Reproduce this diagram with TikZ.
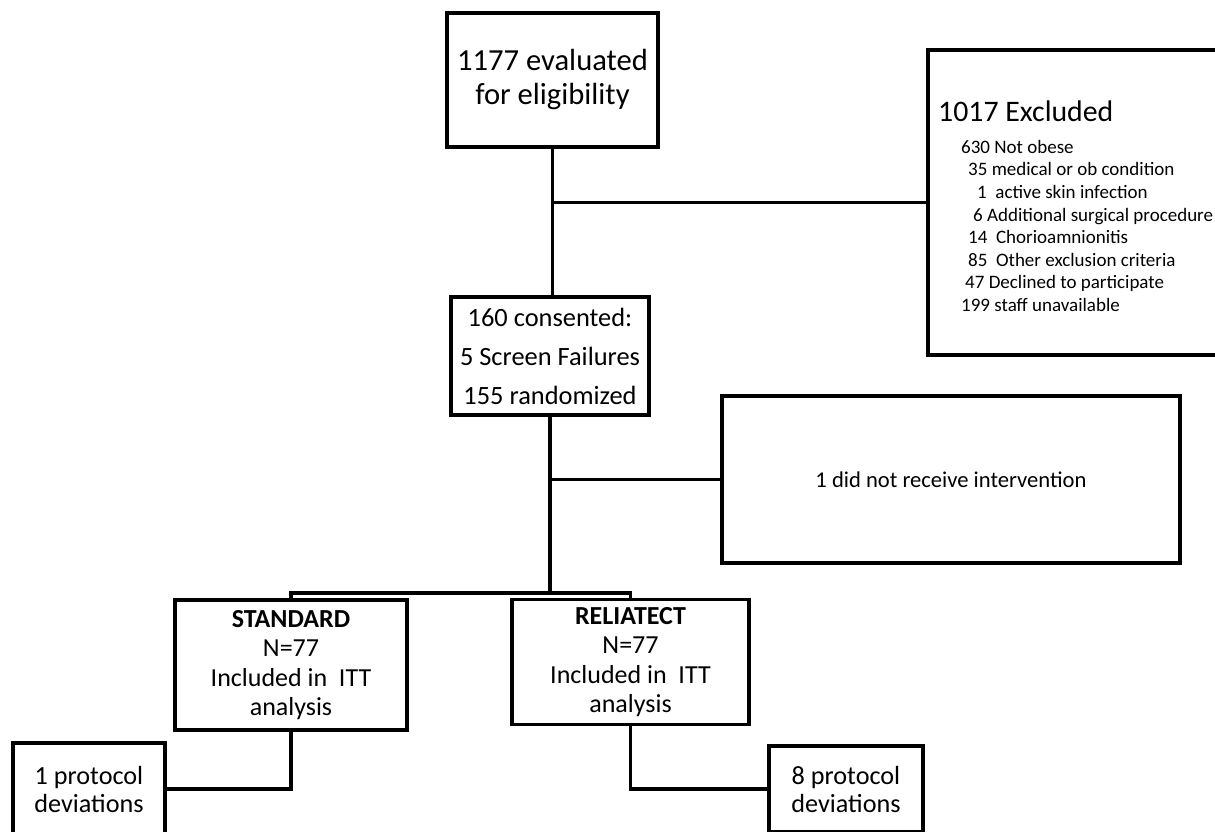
\documentclass[tikz,border=0pt]{standalone}
\usepackage{fontspec}
\setmainfont{Carlito}
\usepackage{tikz}

\begin{document}
\begin{tikzpicture}[x=1pt,y=-1pt,
    box/.style={draw, line width=3.5pt, align=center, inner sep=0pt},
    link/.style={line width=3.5pt}]
    \useasboundingbox (0,0) rectangle (1215,832);

    \node[box, minimum width=211pt, minimum height=134pt,
          font=\fontsize{30.6}{34}\selectfont] (eval) at (552.5,80)
        {1177 evaluated\\for eligibility};
    \node[box, minimum width=300pt, minimum height=305pt] (excl) at (1078,202.5) {};
    \node[anchor=base west, inner sep=0pt, font=\fontsize{29.8}{34}\selectfont]
        (excltitle) at (938,122) {1017 Excluded};
    % base anchor sits on the last line
    \node[align=left, anchor=base west, inner sep=0pt,
          font=\fontsize{19}{22.6}\selectfont] (excltxt) at (938,311.5)
        {\hspace*{23pt}630 Not obese\\
         \hspace*{30pt}35 medical or ob condition\\
         \hspace*{39pt}1\ \ active skin infection\\
         \hspace*{35pt}6 Additional surgical procedure\\
         \hspace*{30pt}14\ \ Chorioamnionitis\\
         \hspace*{30pt}85\ \ Other exclusion criteria\\
         \hspace*{27pt}47 Declined to participate\\
         \hspace*{23pt}199 staff unavailable};
    \node[box, minimum width=198pt, minimum height=118pt,
          font=\fontsize{26.4}{39}\selectfont] (consent) at (550,356)
        {160 consented:\\5 Screen Failures\\155 randomized};
    \node[box, minimum width=458pt, minimum height=167pt,
          font=\fontsize{22.6}{26}\selectfont] (noint) at (951,479.5)
        {1 did not receive intervention};
    \coordinate (split) at (550,593);
    \node[box, minimum width=232pt, minimum height=130pt,
          font=\fontsize{26}{29.5}\selectfont] (std) at (291,665)
        {\textbf{STANDARD}\\N=77\\Included in\ \ ITT\\analysis};
    \node[box, minimum width=237pt, minimum height=125pt,
          font=\fontsize{26}{29.5}\selectfont] (rel) at (630.5,662)
        {\textbf{RELIATECT}\\N=77\\Included in\ \ ITT\\analysis};
    \node[box, minimum width=152pt, minimum height=92pt,
          font=\fontsize{26.2}{28}\selectfont] (prot1) at (89,789)
        {1 protocol\\deviations};
    \node[box, minimum width=154pt, minimum height=86pt,
          font=\fontsize{26.2}{28}\selectfont] (prot8) at (846,789)
        {8 protocol\\deviations};

    \draw[link] (eval.south) -- (eval.south |- consent.north);
    \draw[link] (eval.south |- excl.west) -- (excl.west);
    \draw[link] (consent.south) -- (split);
    \draw[link] (consent.south |- noint.west) -- (noint.west);
    \draw[link] (std.north) |- (split) -| (rel.north);
    \draw[link] (std.south) |- (prot1.east);
    \draw[link] (rel.south) |- (prot8.west);
\end{tikzpicture}
\end{document}
